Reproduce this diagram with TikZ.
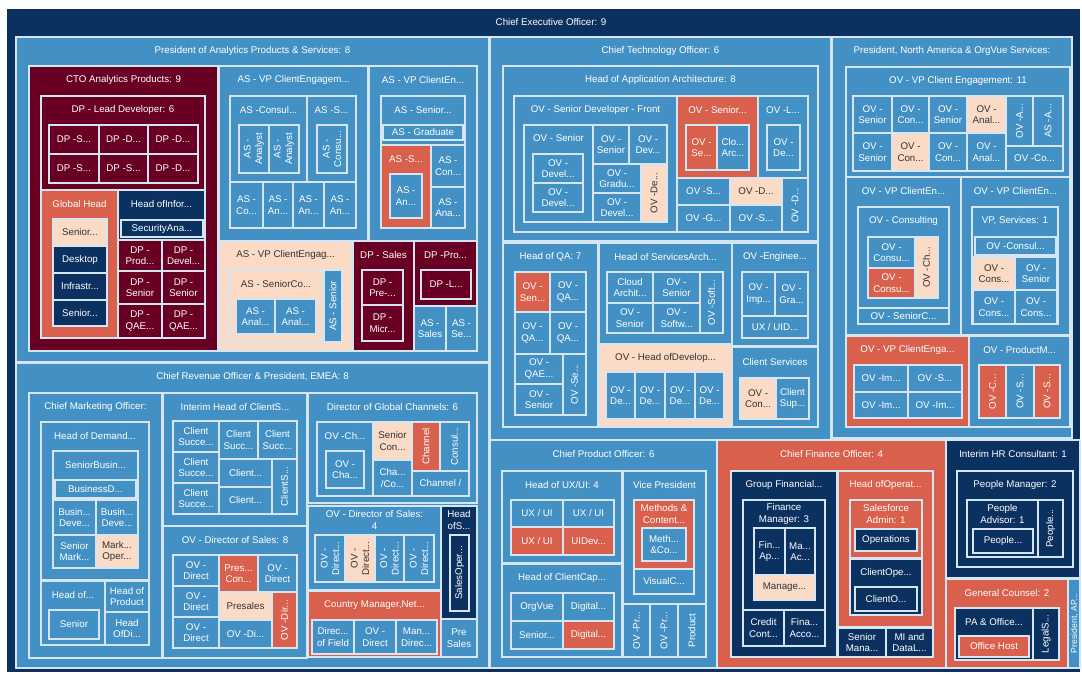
\documentclass[tikz,border=0pt]{standalone}
\usepackage{fontspec}
\setmainfont{Liberation Sans}
\usetikzlibrary{calc}
\definecolor{cNv}{HTML}{0B3160}
\definecolor{cBl}{HTML}{4391C4}
\definecolor{cMr}{HTML}{690023}
\definecolor{cCo}{HTML}{D9604C}
\definecolor{cPc}{HTML}{FBDAC6}
\definecolor{cDk}{HTML}{333333}
\definecolor{cBd}{HTML}{D5E5F2}
\tikzset{
  bd/.style={draw=cBd,line width=0.85pt},
  f-nv/.style={fill=cNv}, f-bl/.style={fill=cBl}, f-mr/.style={fill=cMr},
  f-co/.style={fill=cCo}, f-pc/.style={fill=cPc},
  t-nv/.style={text=white}, t-bl/.style={text=white}, t-mr/.style={text=white},
  t-co/.style={text=white}, t-pc/.style={text=cDk},
  lbl/.style={font=\fontsize{7.3}{8.7}\selectfont,align=center,inner sep=0pt},
}
\newcounter{nn}
% centred label
\newcommand\rc[6]{\stepcounter{nn}\draw[bd,f-#1] (#2,#3) rectangle (#4,#5);
  \node[lbl,t-#1] (c\thenn) at ($(#2,#3)!0.5!(#4,#5)$) {#6};}
% rotated label
\newcommand\rv[6]{\stepcounter{nn}\draw[bd,f-#1] (#2,#3) rectangle (#4,#5);
  \node[lbl,t-#1,rotate=90] (v\thenn) at ($(#2,#3)!0.5!(#4,#5)$) {#6};}
% title at top
\newcommand\rt[7][14]{\stepcounter{nn}\draw[bd,f-#2] (#3,#4) rectangle (#5,#6);
  \node[lbl,t-#2] (t\thenn) at ($(#3,#4)!0.5!(#5,#4)+(0,#1)$) {#7};}
\begin{document}
\begin{tikzpicture}[x=0.75pt,y=-0.75pt]
\useasboundingbox (0,0) rectangle (1082,675);
\fill[white] (0,0) rectangle (1082,675);
\fill[cNv] (7,9) rectangle (1080,672);
\node[lbl,text=white] (ceo) at (551,22) {Chief Executive Officer: 9};
% ===== President of Analytics
\rt{bl}{16}{37}{489}{362}{President of Analytics Products \& Services: 8}
\rt{mr}{29}{66}{218}{351}{CTO Analytics Products: 9}
\rt{mr}{41}{96}{205}{190}{DP - Lead Developer: 6}
\rc{mr}{49}{125}{99}{154}{DP -S...}
\rc{mr}{99}{125}{148}{154}{DP -D...}
\rc{mr}{148}{125}{198}{154}{DP -D...}
\rc{mr}{49}{154}{99}{183}{DP -S...}
\rc{mr}{99}{154}{148}{183}{DP -S...}
\rc{mr}{148}{154}{198}{183}{DP -D...}
\rt{co}{41}{190}{118}{338}{Global Head}
\rt[13]{pc}{53}{219}{107}{326}{Senior...}
\rc{nv}{53}{246}{107}{273}{Desktop}
\rc{nv}{53}{273}{107}{300}{Infrastr...}
\rc{nv}{53}{300}{107}{326}{Senior...}
\rt{nv}{118}{190}{205}{240}{Head ofInfor...}
\rc{nv}{121}{220}{203}{237}{SecurityAna...}
\rc{mr}{118}{240}{162}{271}{DP -\\Prod...}
\rc{mr}{162}{240}{205}{271}{DP -\\Devel...}
\rc{mr}{118}{271}{162}{304}{DP -\\Senior}
\rc{mr}{162}{271}{205}{304}{DP -\\Senior}
\rc{mr}{118}{304}{162}{338}{DP -\\QAE...}
\rc{mr}{162}{304}{205}{338}{DP -\\QAE...}
\rt{bl}{219}{66}{368}{241}{AS - VP ClientEngagem...}
\rt{bl}{230}{96}{307}{182}{AS -Consul...}
\rv{bl}{239}{125}{269}{173}{AS -\\Analyst}
\rv{bl}{269}{125}{299}{173}{AS -\\Analyst}
\rt{bl}{307}{96}{356}{182}{AS -S...}
\rv{bl}{317}{125}{347}{173}{AS -\\Consu...}
\rc{bl}{230}{182}{263}{228}{AS -\\Co...}
\rc{bl}{263}{182}{293}{228}{AS -\\An...}
\rc{bl}{293}{182}{324}{228}{AS -\\An...}
\rc{bl}{324}{182}{356}{228}{AS -\\An...}
\rt{bl}{369}{66}{477}{241}{AS - VP ClientEn...}
\rt{bl}{381}{96}{465}{145}{AS - Senior...}
\rc{bl}{383}{125}{463}{140}{AS - Graduate}
\rt{co}{381}{145}{431}{228}{AS -S...}
\rc{bl}{390}{174}{422}{218}{AS -\\An...}
\rc{bl}{431}{145}{465}{187}{AS -\\Con...}
\rc{bl}{431}{187}{465}{228}{AS -\\Ana...}
\rt{pc}{219}{241}{352}{351}{AS - VP ClientEngag...}
\rt{pc}{229}{270}{323}{342}{AS - SeniorCo...}
\rc{bl}{236}{299}{275}{334}{AS -\\Anal...}
\rc{bl}{275}{299}{316}{334}{AS -\\Anal...}
\rv{bl}{324}{270}{342}{342}{AS - Senior}
\rt{mr}{353}{241}{414}{351}{DP - Sales}
\rc{mr}{362}{270}{403}{305}{DP -\\Pre-...}
\rc{mr}{362}{305}{403}{341}{DP -\\Micr...}
\rt{mr}{414}{241}{477}{306}{DP -Pro...}
\rc{mr}{421}{270}{471}{299}{DP -L...}
\rc{bl}{414}{306}{446}{351}{AS -\\Sales}
\rc{bl}{446}{306}{477}{351}{AS -\\Se...}
% ===== CTO
\rt{bl}{490}{37}{831}{440}{Chief Technology Officer: 6}
\rt{bl}{503}{66}{818}{241}{Head of Application Architecture: 8}
\rt{bl}{514}{96}{677}{232}{OV - Senior Developer - Front}
\rt[13]{bl}{524}{125}{593}{222}{OV - Senior}
\rc{bl}{533}{154}{583}{183}{OV -\\Devel...}
\rc{bl}{533}{183}{583}{212}{OV -\\Devel...}
\rc{bl}{593}{125}{629}{164}{OV -\\Senior}
\rc{bl}{629}{125}{667}{164}{OV -\\Dev...}
\rc{bl}{593}{164}{641}{193}{OV -\\Gradu...}
\rc{bl}{593}{193}{641}{222}{OV -\\Devel...}
\rv{pc}{641}{164}{667}{222}{OV -De...}
\rt{co}{677}{96}{758}{178}{OV - Senior...}
\rc{co}{686}{125}{717}{170}{OV -\\Se...}
\rc{bl}{717}{125}{749}{170}{Clo...\\Arc...}
\rt{bl}{758}{96}{808}{178}{OV -L...}
\rc{bl}{767}{125}{800}{170}{OV -\\De...}
\rc{bl}{677}{178}{730}{205}{OV -S...}
\rc{pc}{730}{178}{782}{205}{OV -D...}
\rc{bl}{677}{205}{730}{232}{OV -G...}
\rc{bl}{730}{205}{782}{232}{OV -S...}
\rv{bl}{782}{178}{808}{232}{OV -D...}
\rt{bl}{503}{243}{598}{427}{Head of QA: 7}
\rc{co}{515}{272}{550}{312}{OV -\\Sen...}
\rc{bl}{550}{272}{586}{312}{OV -\\QA...}
\rc{bl}{515}{312}{550}{354}{OV -\\QA...}
\rc{bl}{550}{312}{586}{354}{OV -\\QA...}
\rc{bl}{515}{354}{563}{384}{OV -\\QAE...}
\rc{bl}{515}{384}{563}{415}{OV -\\Senior}
\rv{bl}{563}{354}{586}{415}{OV -Se...}
\rt{bl}{599}{243}{732}{344}{Head of ServicesArch...}
\rc{bl}{607}{272}{653}{303}{Cloud\\Archit...}
\rc{bl}{653}{272}{700}{303}{OV -\\Senior}
\rc{bl}{607}{303}{653}{333}{OV -\\Senior}
\rc{bl}{653}{303}{700}{333}{OV -\\Softw...}
\rv{bl}{700}{272}{723}{333}{OV -Soft...}
\rt{bl}{732}{243}{818}{346}{OV -Enginee...}
\rc{bl}{742}{272}{775}{316}{OV -\\Imp...}
\rc{bl}{775}{272}{808}{316}{OV -\\Gra...}
\rc{bl}{742}{316}{808}{338}{UX / UID...}
\rt{pc}{599}{344}{732}{427}{OV - Head ofDevelop...}
\rc{bl}{606}{372}{635}{419}{OV -\\De...}
\rc{bl}{635}{372}{665}{419}{OV -\\De...}
\rc{bl}{665}{372}{695}{419}{OV -\\De...}
\rc{bl}{695}{372}{724}{419}{OV -\\De...}
\rt[15]{bl}{732}{347}{818}{427}{Client Services}
\rc{pc}{740}{378}{776}{419}{OV -\\Con...}
\rc{bl}{776}{378}{809}{419}{Client\\Sup...}
% ===== President NA
\rt{bl}{832}{37}{1072}{438}{President, North America \& OrgVue Services:}
\rt{bl}{846}{67}{1070}{177}{OV - VP Client Engagement: 11}
\rc{bl}{853}{96}{892}{133}{OV -\\Senior}
\rc{bl}{892}{96}{929}{133}{OV -\\Con...}
\rc{bl}{929}{96}{967}{133}{OV -\\Senior}
\rc{pc}{967}{96}{1006}{133}{OV -\\Anal...}
\rc{bl}{853}{133}{892}{171}{OV -\\Senior}
\rc{pc}{892}{133}{929}{171}{OV -\\Con...}
\rc{bl}{929}{133}{967}{171}{OV -\\Con...}
\rc{bl}{967}{133}{1006}{171}{OV -\\Anal...}
\rv{bl}{1006}{96}{1033}{146}{OV -A...}
\rv{bl}{1033}{96}{1063}{146}{AS -A...}
\rc{bl}{1006}{146}{1063}{171}{OV -Co...}
\rt{bl}{846}{177}{961}{335}{OV - VP ClientEn...}
\rt{bl}{858}{207}{949}{308}{OV - Consulting}
\rc{bl}{868}{237}{915}{268}{OV -\\Consu...}
\rc{co}{868}{268}{915}{298}{OV -\\Consu...}
\rv{pc}{915}{237}{938}{298}{OV -Ch...}
\rc{bl}{858}{308}{949}{324}{OV - SeniorC...}
\rt{bl}{961}{177}{1070}{335}{OV - VP ClientEn...}
\rt{bl}{972}{207}{1058}{324}{VP, Services: 1}
\rc{bl}{975}{237}{1056}{255}{OV -Consul...}
\rc{pc}{973}{257}{1015}{290}{OV -\\Cons...}
\rc{bl}{1015}{257}{1057}{290}{OV -\\Senior}
\rc{bl}{973}{290}{1015}{324}{OV -\\Cons...}
\rc{bl}{1015}{290}{1057}{324}{OV -\\Cons...}
\rt{co}{846}{336}{969}{427}{OV - VP ClientEnga...}
\rc{bl}{854}{365}{908}{392}{OV -Im...}
\rc{bl}{908}{365}{962}{392}{OV -S...}
\rc{bl}{854}{392}{908}{418}{OV -Im...}
\rc{bl}{908}{392}{962}{418}{OV -Im...}
\rt{bl}{969}{336}{1070}{427}{OV - ProductM...}
\rv{co}{979}{365}{1006}{418}{OV -C...}
\rv{bl}{1006}{365}{1034}{418}{OV -S...}
\rv{co}{1034}{365}{1060}{418}{OV -S...}
% ===== Chief Revenue Officer
\rt{bl}{16}{363}{489}{668}{Chief Revenue Officer \& President, EMEA: 8}
\rt{bl}{29}{393}{162}{658}{Chief Marketing Officer:}
\rt{bl}{41}{422}{149}{580}{Head of Demand...}
\rt{bl}{53}{451}{138}{500}{SeniorBusin...}
\rc{bl}{55}{480}{136}{498}{BusinessD...}
\rc{bl}{53}{500}{96}{535}{Busin...\\Deve...}
\rc{bl}{96}{500}{138}{535}{Busin...\\Deve...}
\rc{bl}{53}{535}{96}{568}{Senior\\Mark...}
\rc{pc}{96}{535}{138}{568}{Mark...\\Oper...}
\rt{bl}{41}{581}{105}{645}{Head of...}
\rc{bl}{49}{610}{99}{639}{Senior}
\rc{bl}{105}{581}{149}{612}{Head of\\Product}
\rc{bl}{105}{612}{149}{645}{Head\\OfDi...}
\rt{bl}{163}{393}{307}{526}{Interim Head of ClientS...}
\rc{bl}{173}{421}{219}{452}{Client\\Succe...}
\rc{bl}{219}{421}{258}{459}{Client\\Succ...}
\rc{bl}{258}{421}{297}{459}{Client\\Succ...}
\rc{bl}{173}{452}{219}{483}{Client\\Succe...}
\rc{bl}{173}{483}{219}{514}{Client\\Succe...}
\rc{bl}{219}{459}{272}{487}{Client...}
\rc{bl}{219}{487}{272}{514}{Client...}
\rv{bl}{272}{459}{297}{514}{ClientS...}
\rt{bl}{308}{393}{477}{503}{Director of Global Channels: 6}
\rt{bl}{317}{422}{373}{496}{OV -Ch...}
\rc{bl}{326}{451}{364}{488}{OV -\\Cha...}
\rc{pc}{373}{422}{412}{460}{Senior\\Con...}
\rv{co}{412}{422}{440}{471}{Channel}
\rv{bl}{440}{422}{469}{471}{Consul...}
\rc{bl}{373}{460}{412}{496}{Cha...\\/Co...}
\rc{bl}{412}{471}{469}{496}{Channel /}
\rt{bl}{308}{506}{441}{590}{OV - Director of Sales:\\4}
\rv{bl}{315}{535}{345}{582}{OV -\\Direct...}
\rv{pc}{345}{535}{375}{582}{OV -\\Direct...}
\rv{bl}{375}{535}{404}{582}{OV -\\Direct...}
\rv{bl}{404}{535}{434}{582}{OV -\\Direct...}
\rt{nv}{441}{506}{477}{619}{Head\\ofS...}
\rv{nv}{450}{535}{469}{611}{SalesOper...}
\rt{co}{308}{591}{441}{657}{Country Manager,Net...}
\rc{bl}{312}{620}{354}{654}{Direc...\\of Field}
\rc{bl}{354}{620}{396}{654}{OV -\\Direct}
\rc{bl}{396}{620}{437}{654}{Man...\\Direc...}
\rc{bl}{441}{619}{477}{657}{Pre\\Sales}
\rt{bl}{163}{526}{307}{658}{OV - Director of Sales: 8}
\rc{bl}{173}{555}{219}{586}{OV -\\Direct}
\rc{bl}{173}{586}{219}{617}{OV -\\Direct}
\rc{bl}{173}{617}{219}{648}{OV -\\Direct}
\rc{co}{219}{555}{258}{592}{Pres...\\Con...}
\rc{bl}{258}{555}{297}{592}{OV -\\Direct}
\rc{pc}{219}{592}{272}{620}{Presales}
\rc{bl}{219}{620}{272}{648}{OV -Di...}
\rv{co}{272}{592}{297}{648}{OV -Dir...}
% ===== Chief Product Officer
\rt{bl}{490}{440}{717}{668}{Chief Product Officer: 6}
\rt{bl}{502}{471}{622}{563}{Head of UX/UI: 4}
\rc{bl}{511}{500}{563}{527}{UX / UI}
\rc{bl}{563}{500}{614}{527}{UX / UI}
\rc{co}{511}{527}{563}{555}{UX / UI}
\rc{co}{563}{527}{614}{555}{UIDev...}
\rt{bl}{502}{564}{622}{657}{Head of ClientCap...}
\rc{bl}{511}{593}{563}{621}{OrgVue}
\rc{bl}{563}{593}{614}{621}{Digital...}
\rc{bl}{511}{621}{563}{649}{Senior...}
\rc{co}{563}{621}{614}{649}{Digital...}
\rt{bl}{623}{471}{706}{604}{Vice President}
\rt{co}{634}{500}{694}{569}{Methods \&\\Content...}
\rc{bl}{642}{528}{686}{561}{Meth...\\\&Co...}
\rc{bl}{634}{569}{694}{594}{VisualC...}
\rv{bl}{623}{604}{650}{657}{OV -Pr...}
\rv{bl}{650}{604}{678}{657}{OV -Pr...}
\rv{bl}{678}{604}{706}{657}{Product}
% ===== Chief Finance Officer
\rt{co}{717}{440}{946}{668}{Chief Finance Officer: 4}
\rt{nv}{731}{471}{837}{657}{Group Financial...}
\rt{nv}{743}{500}{825}{610}{Finance\\Manager: 3}
\rc{nv}{754}{528}{785}{575}{Fin...\\Ap...}
\rc{nv}{785}{528}{815}{575}{Ma...\\Ac...}
\rc{pc}{754}{575}{815}{600}{Manage...}
\rc{nv}{743}{610}{784}{646}{Credit\\Cont...}
\rc{nv}{784}{610}{825}{646}{Fina...\\Acco...}
\rt{co}{838}{471}{933}{627}{Head ofOperat...}
\rt{co}{850}{500}{922}{558}{Salesforce\\Admin: 1}
\rc{nv}{855}{529}{917}{551}{Operations}
\rt{nv}{850}{559}{922}{615}{ClientOpe...}
\rc{nv}{855}{587}{917}{611}{ClientO...}
\rc{nv}{838}{628}{886}{657}{Senior\\Mana...}
\rc{nv}{886}{628}{933}{657}{MI and\\DataL...}
% ===== HR
\rt{nv}{946}{440}{1080}{578}{Interim HR Consultant: 1}
\rt{nv}{957}{471}{1073}{567}{People Manager: 2}
\rt{nv}{967}{500}{1038}{557}{People\\Advisor: 1}
\rc{nv}{973}{529}{1033}{553}{People...}
\rv{nv}{1038}{500}{1063}{557}{People...}
% ===== General Counsel
\rt{co}{946}{579}{1068}{668}{General Counsel: 2}
\rt{nv}{955}{608}{1033}{660}{PA \& Office...}
\rc{co}{959}{636}{1029}{657}{Office Host}
\rv{nv}{1033}{608}{1059}{660}{LegalS...}
\draw[bd,f-bl] (1068,579) rectangle (1080,668);
\node[lbl,text=white,rotate=90,font=\fontsize{6.5}{7}\selectfont] (pap) at (1074.5,623.5) {President, AP...};
\end{tikzpicture}
\end{document}
